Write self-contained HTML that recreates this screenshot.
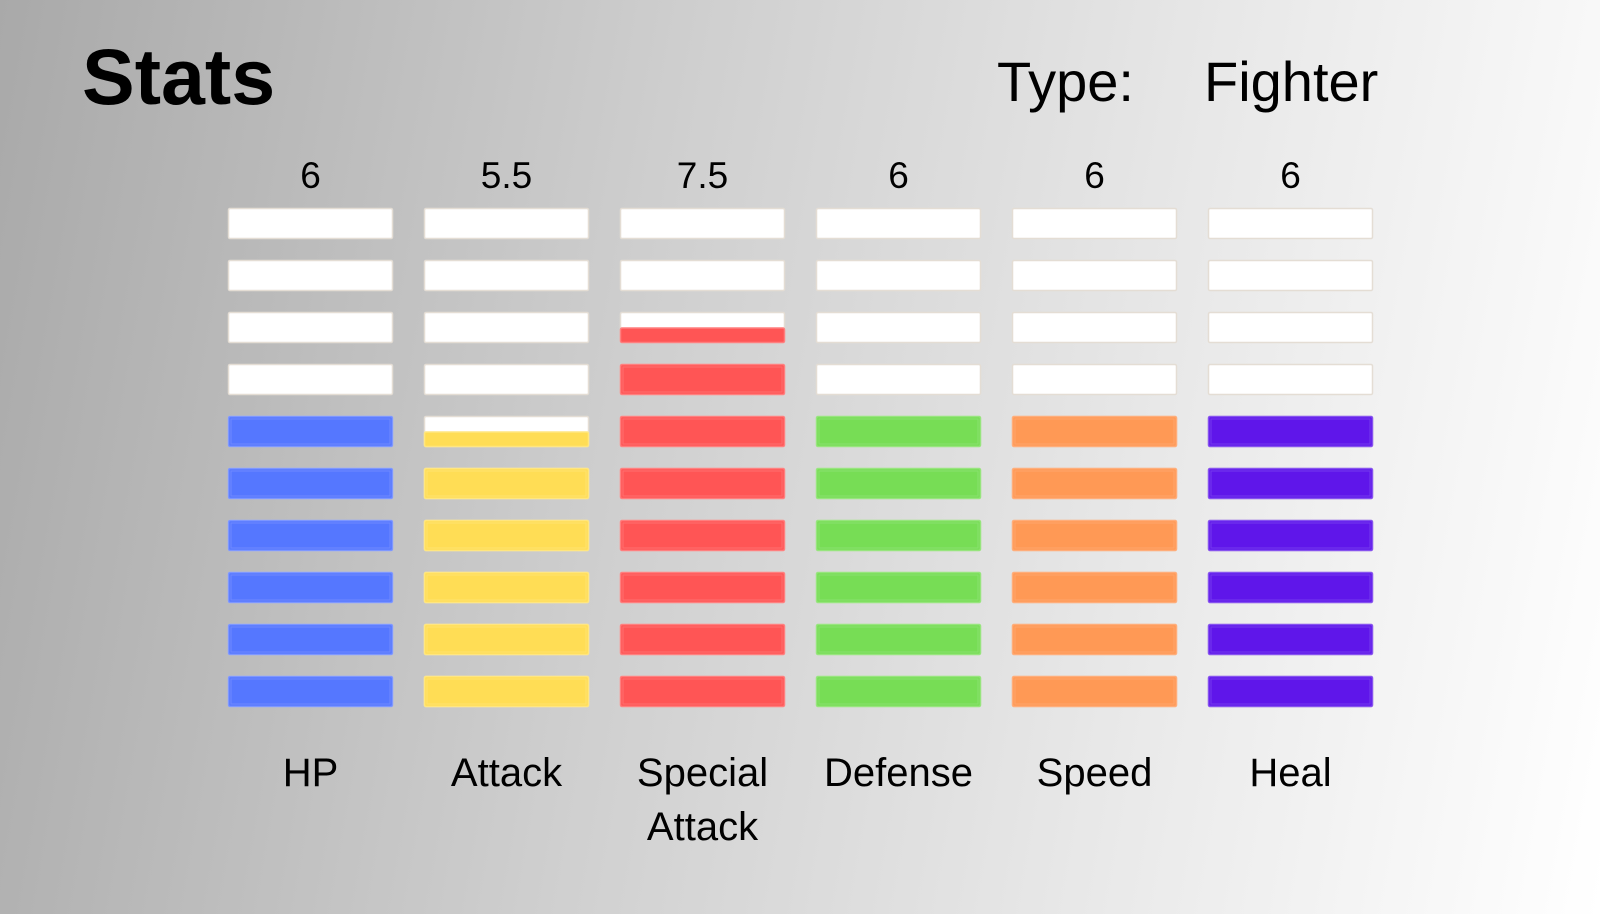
<!DOCTYPE html>
<html><head><meta charset="utf-8"><style>
html,body{margin:0;padding:0}
body{width:1600px;height:914px;overflow:hidden;position:relative;font-family:"Liberation Sans",Arial,sans-serif;background:linear-gradient(100deg,#a9a9a9 0%,#cfcfcf 40%,#e8e8e8 70%,#ffffff 100%)}
.t{position:absolute;color:#000;white-space:nowrap}
</style></head><body>
<div class="t" style="left:82px;top:32px;font-size:79px;font-weight:bold;line-height:90px">Stats</div>
<div class="t" style="left:997px;top:50px;font-size:56px;line-height:64px">Type:</div>
<div class="t" style="left:1204px;top:50px;font-size:56px;line-height:64px">Fighter</div>
<svg id="chart" width="1600" height="914" style="position:absolute;left:0;top:0"></svg>
<script>
const categories=["HP","Attack","Special Attack","Defense","Speed","Heal"];
const values=[6,5.5,7.5,6,6,6];
const valueLabels=["6","5.5","7.5","6","6","6"];
const colors=["#5577ff","#ffdd55","#ff5555","#77dd55","#ff9955","#5f16ea"];
const borders=["#7e97ff","#ffe680","#ff7f7f","#97e57e","#ffad7a","#8652ef"];
const maxSegments=10;
const svg=document.getElementById('chart');
const NS='http://www.w3.org/2000/svg';
const x0=228,pitch=196,bw=165,bh=31,rowPitch=52,bottomTop=676;
function xPos(i){return x0+i*pitch;}
function yPos(seg){return bottomTop-seg*rowPitch;}
function mk(tag,attrs){const e=document.createElementNS(NS,tag);for(const k in attrs)e.setAttribute(k,attrs[k]);svg.appendChild(e);return e;}
categories.forEach((cat,i)=>{
  const x=xPos(i),cx=x+bw/2;
  const v=mk('text',{x:cx,y:188,'text-anchor':'middle','font-size':37,fill:'#000','font-family':'Liberation Sans, sans-serif'});
  v.textContent=valueLabels[i];
  
  
  const words=cat.split(' ');
  words.forEach((w,j)=>{
    const t=mk('text',{x:cx,y:786+j*54,'text-anchor':'middle','font-size':40,fill:'#000','font-family':'Liberation Sans, sans-serif'});
    t.textContent=w;
    
    
  });
  for(let s=0;s<maxSegments;s++){
    const y=yPos(s);
    const fill=Math.max(0,Math.min(1,values[i]-s));
    const g=mk('rect',{x:x+0.5,y:y+0.5,width:bw-1,height:bh-1,fill:'#ffffff',stroke:'#e4ddd4','stroke-width':1.5,rx:1.5});
    
    
    if(fill>0){
      const h=bh*fill;
      const r=mk('rect',{x:x+0.5,y:y+bh-h+0.5,width:bw-1,height:h-1,fill:colors[i],stroke:borders[i],'stroke-width':1.5,rx:1.5});
      
      
      if(fill>=1){
        const inner=mk('rect',{x:x+3,y:y+3,width:bw-6,height:bh-6,fill:'none',stroke:borders[i],'stroke-width':1,opacity:0.6});
        
        
      }
    }
  }
});
</script>
</body></html>
